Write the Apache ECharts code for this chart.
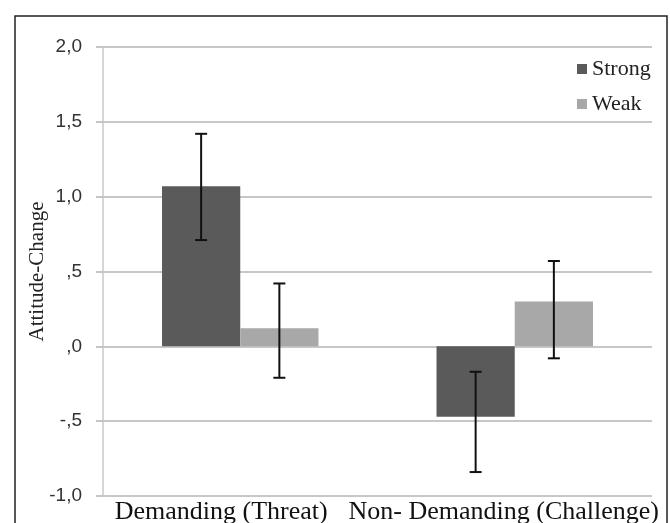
<!DOCTYPE html>
<html>
<head>
<meta charset="utf-8">
<script src="https://cdn.jsdelivr.net/npm/echarts@6/dist/echarts.min.js"></script>
<style>html,body{margin:0;padding:0;background:#fff;}#c{width:670px;height:523px;}</style>
</head>
<body>
<div id="c"></div>
<script>
var categories = ['Demanding (Threat)', 'Non- Demanding (Challenge)'];
var strongValues = [1.07, -0.47];
var weakValues = [0.12, 0.30];
var strongErrLow = [0.71, -0.84];
var strongErrHigh = [1.42, -0.17];
var weakErrLow = [-0.21, -0.08];
var weakErrHigh = [0.42, 0.57];
var yTickLabels = {'2': '2,0', '1.5': '1,5', '1': '1,0', '0.5': ',5', '0': ',0', '-0.5': '-,5', '-1': '-1,0'};

var chart = echarts.init(document.getElementById('c'));
var gapRatio = 0.43;
var halfBar = (1 - gapRatio) / 4;
var labelPadRight = [38, 22];

function errSeries(name, lows, highs, sign) {
  return {
    type: 'custom',
    name: name + ' err',
    z: 10,
    data: categories.map(function (c, i) { return [i, lows[i], highs[i]]; }),
    renderItem: function (params, api) {
      var band = api.size([1, 0])[0];
      var off = sign * band * halfBar;
      var lo = api.coord([api.value(0), api.value(1)]);
      var hi = api.coord([api.value(0), api.value(2)]);
      var x = lo[0] + off;
      var cap = 6;
      var st = { stroke: '#111', lineWidth: 2 };
      return {
        type: 'group',
        children: [
          { type: 'line', shape: { x1: x, y1: lo[1], x2: x, y2: hi[1] }, style: st },
          { type: 'line', shape: { x1: x - cap, y1: lo[1], x2: x + cap, y2: lo[1] }, style: st },
          { type: 'line', shape: { x1: x - cap, y1: hi[1], x2: x + cap, y2: hi[1] }, style: st }
        ]
      };
    }
  };
}

chart.setOption({
  animation: false,
  backgroundColor: '#fff',
  graphic: [{
    type: 'rect',
    shape: { x: 15, y: 16, width: 652, height: 530 },
    style: { fill: 'none', stroke: '#222', lineWidth: 1.5 },
    silent: true
  }],
  grid: { left: 103, right: 18, top: 47, bottom: 27, containLabel: false, outerBoundsMode: 'none' },
  legend: {
    orient: 'vertical',
    left: 572,
    top: 53,
    itemWidth: 10,
    itemHeight: 10,
    itemGap: 13,
    icon: 'rect',
    data: ['Strong', 'Weak'],
    textStyle: { fontFamily: 'Liberation Serif', fontSize: 22, color: '#222', padding: [0, 0, 0, 0] }
  },
  xAxis: {
    type: 'category',
    data: categories.map(function (c, i) { return { value: c, textStyle: { padding: [0, labelPadRight[i], 0, 0] } }; }),
    position: 'bottom',
    axisLine: { show: false, onZero: false },
    axisTick: { show: false },
    axisLabel: { fontFamily: 'Liberation Serif', fontSize: 26, color: '#111', margin: 3, interval: 0 }
  },
  yAxis: {
    type: 'value',
    min: -1,
    max: 2,
    interval: 0.5,
    name: 'Attitude-Change',
    nameLocation: 'middle',
    nameGap: 55,
    nameMoveOverlap: false,
    nameRotate: 90,
    nameTextStyle: { fontFamily: 'Liberation Serif', fontSize: 21, color: '#222' },
    axisLine: { show: true, lineStyle: { color: '#c8c8c8', width: 1.5 } },
    axisTick: { show: true, length: 7, lineStyle: { color: '#b4b4b4', width: 1.5 } },
    axisLabel: {
      fontFamily: 'Liberation Sans', fontSize: 19, color: '#333', margin: 21,
      formatter: function (v) { var k = String(Math.round(v * 10) / 10); return yTickLabels[k] !== undefined ? yTickLabels[k] : ''; }
    },
    splitLine: { show: true, lineStyle: { color: '#b4b4b4', width: 1.5 } }
  },
  series: [
    { type: 'bar', name: 'Strong', data: strongValues, barGap: 0, barCategoryGap: (gapRatio * 100) + '%', itemStyle: { color: '#5a5a5a' } },
    { type: 'bar', name: 'Weak', data: weakValues, barGap: 0, barCategoryGap: (gapRatio * 100) + '%', itemStyle: { color: '#a8a8a8' } },
    errSeries('Strong', strongErrLow, strongErrHigh, -1),
    errSeries('Weak', weakErrLow, weakErrHigh, 1)
  ]
});
</script>
</body>
</html>
